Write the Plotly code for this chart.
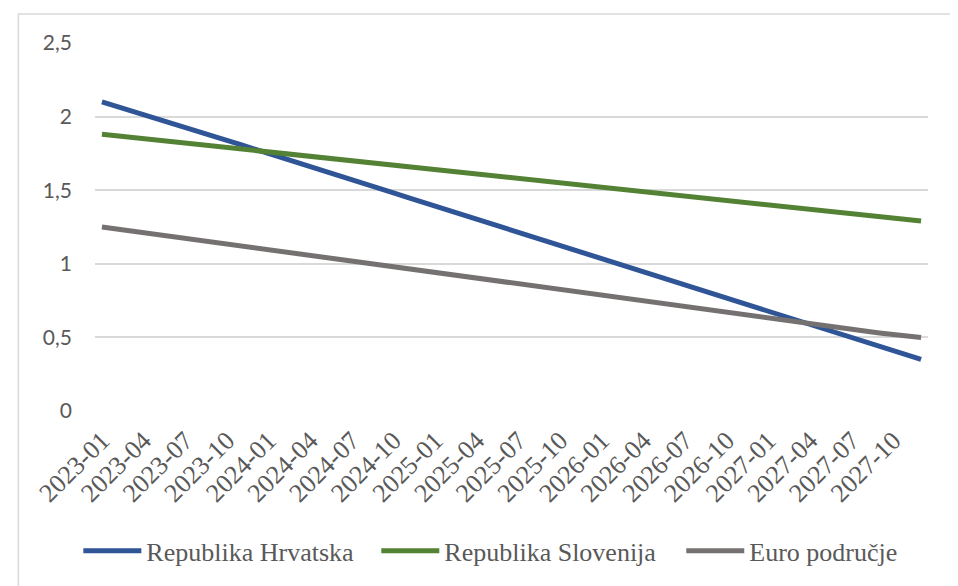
import plotly.graph_objects as go

months = [f"{y}-{m:02d}" for y in range(2023, 2028) for m in range(1, 13)]

hrvatska = [
    2.100, 2.070, 2.041, 2.012, 1.983, 1.954, 1.925, 1.896, 1.867, 1.838, 1.809, 1.780,
    1.751, 1.722, 1.692, 1.662, 1.632, 1.602, 1.572, 1.542, 1.512, 1.482, 1.452, 1.422,
    1.392, 1.362, 1.332, 1.302, 1.272, 1.242, 1.212, 1.182, 1.152, 1.122, 1.092, 1.062,
    1.032, 1.002, 0.972, 0.942, 0.912, 0.882, 0.852, 0.822, 0.792, 0.762, 0.732, 0.702,
    0.672, 0.642, 0.612, 0.582, 0.552, 0.522, 0.492, 0.462, 0.432, 0.403, 0.376, 0.350,
]
slovenija = [
    1.880, 1.870, 1.860, 1.850, 1.840, 1.830, 1.820, 1.810, 1.800, 1.790, 1.780, 1.770,
    1.760, 1.750, 1.740, 1.730, 1.720, 1.710, 1.700, 1.690, 1.680, 1.670, 1.660, 1.650,
    1.640, 1.630, 1.620, 1.610, 1.600, 1.590, 1.580, 1.570, 1.560, 1.550, 1.540, 1.530,
    1.520, 1.510, 1.500, 1.490, 1.480, 1.470, 1.460, 1.450, 1.440, 1.430, 1.420, 1.410,
    1.400, 1.390, 1.380, 1.370, 1.360, 1.350, 1.340, 1.330, 1.320, 1.310, 1.300, 1.290,
]
euro = [
    1.250, 1.237, 1.224, 1.211, 1.198, 1.185, 1.172, 1.159, 1.146, 1.133, 1.120, 1.107,
    1.094, 1.081, 1.068, 1.055, 1.042, 1.029, 1.016, 1.003, 0.990, 0.977, 0.964, 0.951,
    0.938, 0.925, 0.912, 0.899, 0.886, 0.873, 0.860, 0.847, 0.834, 0.821, 0.808, 0.795,
    0.782, 0.769, 0.756, 0.743, 0.730, 0.717, 0.704, 0.691, 0.678, 0.665, 0.652, 0.639,
    0.626, 0.614, 0.602, 0.590, 0.578, 0.566, 0.554, 0.542, 0.530, 0.519, 0.509, 0.500,
]

tick_labels = months[::3]
y_ticks = [0, 0.5, 1, 1.5, 2, 2.5]
y_tick_text = ["0", "0,5", "1", "1,5", "2", "2,5"]

series = [
    ("Republika Hrvatska", hrvatska, "#2F5597", "legend"),
    ("Republika Slovenija", slovenija, "#548235", "legend2"),
    ("Euro područje", euro, "#767171", "legend3"),
]

SERIF = "Liberation Serif, Times New Roman, serif"

fig = go.Figure()
for name, vals, color, leg in series:
    fig.add_trace(go.Scatter(
        x=months, y=vals, name=name, mode="lines",
        line=dict(color=color, width=5), legend=leg,
    ))


def legend_at(x):
    return dict(
        orientation="h", x=x, xanchor="left", y=-0.38, yanchor="middle",
        font=dict(family=SERIF, size=26, color="#595959"),
        bgcolor="rgba(0,0,0,0)", itemwidth=58,
    )


fig.update_layout(
    width=950, height=578,
    margin=dict(l=87, r=30, t=35, b=175, autoexpand=False),
    paper_bgcolor="white", plot_bgcolor="white",
    showlegend=True,
    legend=legend_at(-0.02),
    legend2=legend_at(0.3377),
    legend3=legend_at(0.7038),
    shapes=[dict(
        type="rect", xref="paper", yref="paper",
        x0=-0.092, x1=1.2, y0=-0.6, y1=1.0788,
        line=dict(color="#d9d9d9", width=1.5), fillcolor="rgba(0,0,0,0)",
        layer="below",
    )],
)

fig.update_xaxes(
    type="category", range=[-0.5, 59.5], automargin=False,
    tickmode="array", tickvals=tick_labels, ticktext=tick_labels,
    tickangle=-45, showgrid=False, showline=False, zeroline=False,
    tickfont=dict(family=SERIF, size=26, color="#595959"),
    ticks="", ticklabelstandoff=8,
)
fig.update_yaxes(
    range=[0, 2.5], automargin=False,
    tickmode="array", tickvals=y_ticks, ticktext=y_tick_text,
    showgrid=True, gridcolor="#d9d9d9", gridwidth=1.5, zeroline=False,
    showline=False, ticks="", ticklabelstandoff=22,
    tickfont=dict(family="Lato", size=21, color="#595959"),
)

fig.write_html("out.html")
